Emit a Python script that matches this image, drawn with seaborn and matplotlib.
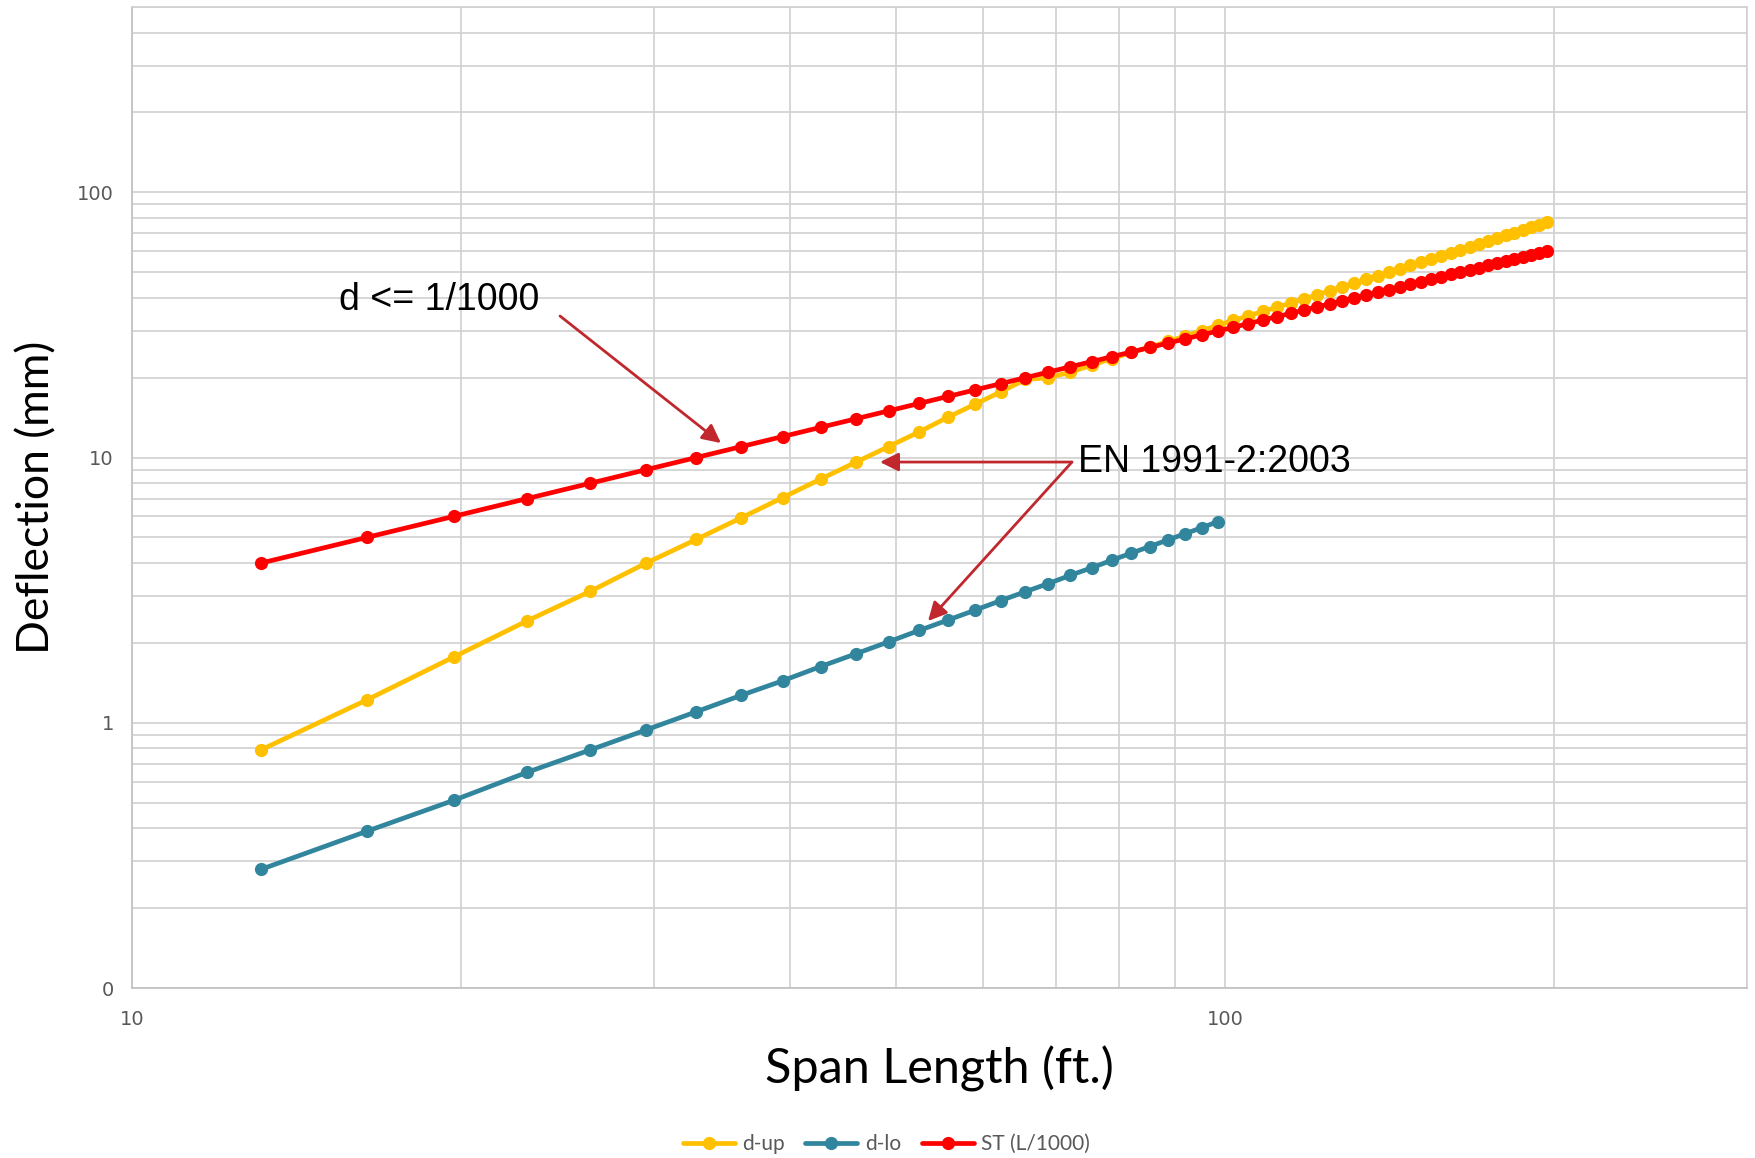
import numpy as np
import pandas as pd
import seaborn as sns
import matplotlib.pyplot as plt
from matplotlib.ticker import FixedLocator, FixedFormatter, LogLocator, NullFormatter


# span lengths 4 m ... 60 m, expressed in ft
span_ft = [13.12, 16.40, 19.69, 22.97, 26.25, 29.53, 32.81, 36.09, 39.37, 42.65,
           45.93, 49.21, 52.49, 55.77, 59.06, 62.34, 65.62, 68.90, 72.18, 75.46,
           78.74, 82.02, 85.30, 88.58, 91.86, 95.14, 98.43, 101.71, 104.99, 108.27,
           111.55, 114.83, 118.11, 121.39, 124.67, 127.95, 131.23, 134.51, 137.80, 141.08,
           144.36, 147.64, 150.92, 154.20, 157.48, 160.76, 164.04, 167.32, 170.60, 173.88,
           177.17, 180.45, 183.73, 187.01, 190.29, 193.57, 196.85]

d_up = [0.79, 1.22, 1.77, 2.42, 3.13, 4.0, 4.91, 5.93, 7.06, 8.3,
        9.6, 11.0, 12.5, 14.2, 15.9, 17.7, 19.7, 20.0, 21.0, 22.3,
        23.6, 24.9, 26.1, 27.4, 28.7, 30.1, 31.5, 32.9, 34.2, 35.6,
        36.9, 38.3, 39.7, 41.1, 42.6, 44.0, 45.5, 47.0, 48.5, 50.0,
        51.5, 53.0, 54.6, 56.1, 57.7, 59.3, 60.8, 62.4, 64.0, 65.6,
        67.2, 68.9, 70.5, 72.1, 73.8, 75.4, 77.1]

d_lo = [0.28, 0.39, 0.51, 0.65, 0.79, 0.94, 1.10, 1.27, 1.44, 1.63,
        1.82, 2.02, 2.23, 2.44, 2.66, 2.89, 3.12, 3.35, 3.60, 3.84,
        4.10, 4.36, 4.62, 4.89, 5.16, 5.44, 5.73]

st_limit = [4, 5, 6, 7, 8, 9, 10, 11, 12, 13,
            14, 15, 16, 17, 18, 19, 20, 21, 22, 23,
            24, 25, 26, 27, 28, 29, 30, 31, 32, 33,
            34, 35, 36, 37, 38, 39, 40, 41, 42, 43,
            44, 45, 46, 47, 48, 49, 50, 51, 52, 53,
            54, 55, 56, 57, 58, 59, 60]

series_names = ['d-up', 'd-lo', 'ST (L/1000)']
series_colors = ['#FFC000', '#31859C', '#FF0000']

x_ticks = [10, 100]
x_tick_labels = ['10', '100']
y_ticks = [0.1, 1, 10, 100]
y_tick_labels = ['0', '1', '10', '100']

ARROW_COLOR = '#C0282D'


def build_frame() -> pd.DataFrame:
    frames = []
    for name, values in zip(series_names, [d_up, d_lo, st_limit]):
        frames.append(pd.DataFrame({
            'span': span_ft[:len(values)],
            'deflection': values,
            'series': name,
        }))
    return pd.concat(frames, ignore_index=True)


def main() -> None:
    sns.set_theme(style='white')
    plt.rcParams['font.family'] = ['DejaVu Sans']

    df = build_frame()

    fig = plt.figure(figsize=(17.55, 11.58), dpi=100)
    ax = fig.add_axes([0.0752, 0.1468, 0.9202, 0.8472])
    ax.set_xscale('log')
    ax.set_yscale('log')

    sns.lineplot(
        data = df,
        x = 'span',
        y = 'deflection',
        hue = 'series',
        hue_order = series_names,
        palette = series_colors,
        marker = 'o',
        markersize = 9.5,
        markeredgewidth = 0,
        linewidth = 3.4,
        estimator = None,
        sort = False,
        ax = ax,
    )

    ax.set_xlim(10, 300)
    ax.set_ylim(0.1, 500)

    ax.xaxis.set_major_locator(FixedLocator(x_ticks))
    ax.xaxis.set_major_formatter(FixedFormatter(x_tick_labels))
    ax.xaxis.set_minor_locator(LogLocator(base=10, subs=np.arange(2, 10)))
    ax.xaxis.set_minor_formatter(NullFormatter())
    ax.yaxis.set_major_locator(FixedLocator(y_ticks))
    ax.yaxis.set_major_formatter(FixedFormatter(y_tick_labels))
    ax.yaxis.set_minor_locator(LogLocator(base=10, subs=np.arange(2, 10)))
    ax.yaxis.set_minor_formatter(NullFormatter())

    ax.grid(which='both', color='#D0D0D0', linewidth=1.2)
    ax.set_axisbelow(True)
    ax.tick_params(which='both', length=0)
    ax.tick_params(axis='both', labelsize=14, labelcolor='#595959')
    ax.tick_params(axis='x', pad=16)
    ax.tick_params(axis='y', pad=13)

    for side, spine in ax.spines.items():
        spine.set_color('#BFBFBF' if side in ('left', 'bottom') else '#D0D0D0')
        spine.set_linewidth(1.2)

    ax.set_xlabel('Span Length (ft.)', fontsize=35, family='Lato', color='black', va='center')
    ax.set_ylabel('Deflection (mm)', fontsize=32, family='Lato', color='black', va='center')
    ax.xaxis.set_label_coords(0.5, -0.0826)
    ax.yaxis.set_label_coords(-0.0588, 0.5)

    handles, labels = ax.get_legend_handles_labels()
    ax.get_legend().remove()
    fig.legend(
        handles, labels,
        loc = 'center',
        bbox_to_anchor = (0.505, 0.012),
        ncol = 3,
        frameon = False,
        prop = {'family': 'Lato', 'size': 15},
        labelcolor = '#595959',
        handlelength = 2.5,
        handletextpad = 0.35,
        columnspacing = 1.0,
    )

    # annotations (figure fraction)
    fig.text(0.1932, 0.7409, 'd <= 1/1000', fontsize=27, family='Liberation Sans',
             ha='left', va='center', color='black')
    fig.text(0.6142, 0.6010, 'EN 1991-2:2003', fontsize=27, family='Liberation Sans',
             ha='left', va='center', color='black')

    arrows = [
        ((0.3191, 0.7271), (0.4108, 0.6174)),
        ((0.6108, 0.6010), (0.5014, 0.6010)),
        ((0.6108, 0.6010), (0.5288, 0.4637)),
    ]
    for start, end in arrows:
        ax.annotate(
            '', xy=end, xytext=start,
            xycoords='figure fraction', textcoords='figure fraction',
            arrowprops=dict(arrowstyle='-|>', color=ARROW_COLOR, lw=2,
                            mutation_scale=28, shrinkA=0, shrinkB=0),
        )

    fig.savefig('out.png', dpi=100)


if __name__ == '__main__':
    main()
